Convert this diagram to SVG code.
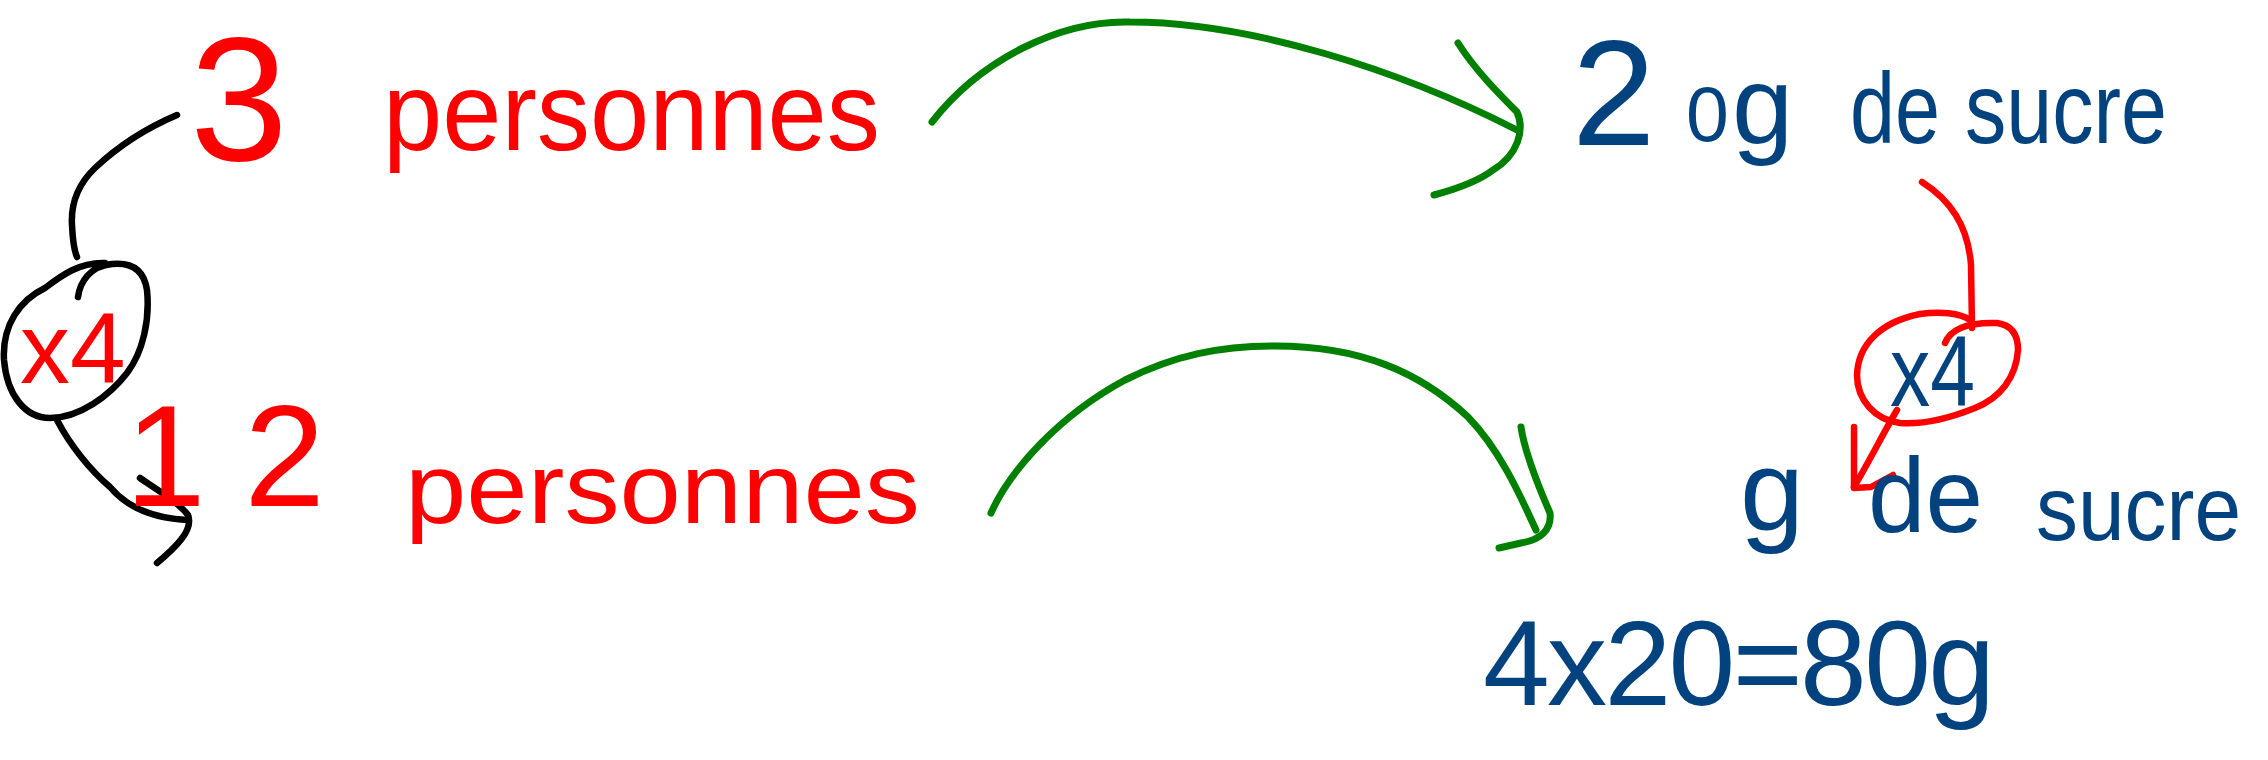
<svg xmlns="http://www.w3.org/2000/svg" width="2268" height="760" viewBox="0 0 2268 760">
<style>
.t{font-family:"Liberation Sans",Arial,sans-serif}
.r{fill:#FF0000}
.b{fill:#02427F}
.s{fill:none;stroke-linecap:round;stroke-linejoin:round;stroke-width:6.5}
.k{stroke:#000}
.sr{stroke:#FF0000}
.g{stroke:#008000;stroke-width:7}
</style>
<rect width="2268" height="760" fill="#fff"/>
<g id="connectors">
<path class="s k" d="M177,115 Q130,135 95,168 Q70,192 72,225 Q73,248 77,257"/>
<path class="s k" d="M57,420 C70,445 90,470 110,487 C125,505 150,518 187,520"/>
<path class="s k" d="M140,478 C160,492 178,502 188,515 C194,530 175,548 157,563"/>
<path class="s g" d="M932,122 C980,60 1060,20 1130,22 C1250,22 1400,70 1517,130"/>
<path class="s g" d="M1458,43 C1475,70 1500,95 1517,112 C1525,130 1518,155 1493,170 C1480,180 1460,188 1434,195"/>
<path class="s g" d="M991,513 C1010,470 1060,415 1125,380 C1175,355 1220,346 1275,346 C1360,346 1420,372 1468,417 C1500,450 1520,495 1536,530"/>
<path class="s g" d="M1521,427 C1525,455 1540,490 1550,513 C1552,530 1540,540 1521,543 L1499,548"/>
<path class="s sr" d="M1922,182 C1950,200 1968,225 1971,265 L1972,328"/>
<path class="s sr" d="M1897,410 C1885,430 1870,460 1854,487"/>
<path class="s sr" d="M1854,427 L1854,488 L1871,487 L1893,475"/>
</g>
<g id="n-3"><text class="t r" x="190" y="160" font-size="176">3</text></g>
<g id="n-personnes-1"><text class="t r" x="383" y="150" font-size="112" textLength="497" lengthAdjust="spacingAndGlyphs">personnes</text></g>
<g id="n-x4-left">
<path class="s k" d="M78,297 C80,282 90,266 112,264 C132,262 144,270 147,290 C150,320 143,352 127,373 C110,395 80,418 50,418 C25,418 7,395 4,360 C2,325 20,300 45,288 C62,275 80,262 105,263"/>
<text class="t r" x="20" y="383" font-size="100">x4</text>
</g>
<g id="n-12"><text class="t r" x="125" y="506" font-size="145" textLength="200">12</text></g>
<g id="n-personnes-2"><text class="t r" x="405" y="523" font-size="100" textLength="515" lengthAdjust="spacingAndGlyphs">personnes</text></g>
<g id="n-20g">
<text class="t b" x="1572" y="145" font-size="150">2</text>
<text class="t b" x="1686" y="141" font-size="77">0</text>
<text class="t b" x="1732" y="143" font-size="110">g</text>
<text class="t b" x="1850" y="143" font-size="100" textLength="90" lengthAdjust="spacingAndGlyphs">de</text>
<text class="t b" x="1965" y="143" font-size="100" textLength="202" lengthAdjust="spacingAndGlyphs">sucre</text>
</g>
<g id="n-x4-right">
<path class="s sr" d="M1945,343 C1950,330 1965,322 1997,323 C2012,325 2018,335 2018,350 C2016,378 2000,398 1975,408 C1950,418 1925,425 1900,423 C1875,420 1857,400 1857,375 C1858,345 1880,322 1920,314 C1940,311 1960,313 1970,320"/>
<text class="t b" x="1890" y="406" font-size="100" textLength="85" lengthAdjust="spacingAndGlyphs">x4</text>
</g>
<g id="n-g-de-sucre">
<text class="t b" x="1740" y="530" font-size="115">g</text>
<text class="t b" x="1868" y="532" font-size="105" textLength="115" lengthAdjust="spacingAndGlyphs">de</text>
<text class="t b" x="2036" y="540" font-size="90" textLength="205" lengthAdjust="spacingAndGlyphs">sucre</text>
</g>
<g id="n-calc"><text class="t b" x="1483" y="705" font-size="120" textLength="512">4x20=80g</text></g>
</svg>
